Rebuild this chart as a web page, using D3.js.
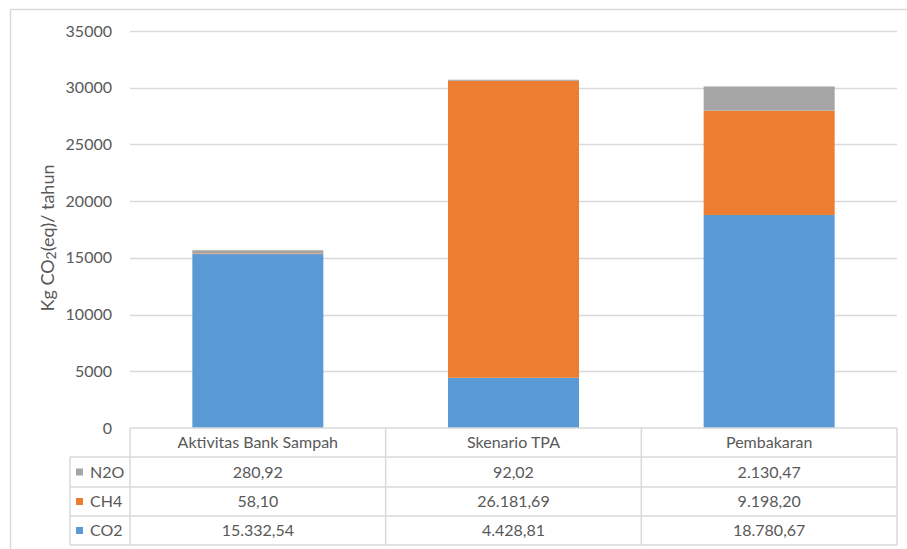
<!DOCTYPE html>
<html>
<head>
<meta charset="utf-8">
<script src="https://cdn.jsdelivr.net/npm/d3@7/dist/d3.min.js"></script>
<style>
  html, body { margin: 0; padding: 0; background: #fff; }
  svg { display: block; }
  text { font-family: Lato, "Open Sans", sans-serif; fill: #595959; }
</style>
</head>
<body>
<svg id="chart" width="907" height="549"></svg>
<script>
const categories = ["Aktivitas Bank Sampah", "Skenario TPA", "Pembakaran"];
const seriesNames = ["CO2", "CH4", "N2O"];
const co2Values = [15332.54, 4428.81, 18780.67];
const ch4Values = [58.10, 26181.69, 9198.20];
const n2oValues = [280.92, 92.02, 2130.47];
const co2Labels = ["15.332,54", "4.428,81", "18.780,67"];
const ch4Labels = ["58,10", "26.181,69", "9.198,20"];
const n2oLabels = ["280,92", "92,02", "2.130,47"];
const yTicks = [0, 5000, 10000, 15000, 20000, 25000, 30000, 35000];
const colors = { CO2: "#5b9bd5", CH4: "#ed7d31", N2O: "#a5a5a5" };

(function () {
const rows = categories.map((c, i) => ({ cat: c, CO2: co2Values[i], CH4: ch4Values[i], N2O: n2oValues[i] }));

const svg = d3.select("#chart");
const plotLeft = 130, plotRight = 897, plotTop = 31, zeroY = 428;

// outer border
svg.append("rect").attr("x", 10.5).attr("y", 9.5).attr("width", 905).attr("height", 545)
  .attr("fill", "none").attr("stroke", "#d9d9d9").attr("stroke-width", 1.5);

const x = d3.scaleBand().domain(categories).range([plotLeft, plotRight]).paddingInner(0.4876).paddingOuter(0.2438);
const y = d3.scaleLinear().domain([0, 35000]).range([zeroY, plotTop]);

// gridlines
svg.append("g").selectAll("line").data(yTicks.filter(t => t > 0)).join("line")
  .attr("x1", plotLeft).attr("x2", plotRight)
  .attr("y1", d => Math.round(y(d)) + 0.5).attr("y2", d => Math.round(y(d)) + 0.5)
  .attr("stroke", "#d9d9d9").attr("stroke-width", 1.3);

// y axis labels
const yAxis = d3.axisLeft(y).tickValues(yTicks).tickSize(0).tickPadding(0).tickFormat(d3.format("d"));
const ga = svg.append("g").attr("transform", `translate(112,0)`).call(yAxis);
ga.select(".domain").remove();
ga.selectAll("text").attr("font-size", 16).attr("font-family", "Lato, sans-serif").attr("fill", "#595959");

// stacked bars
const stack = d3.stack().keys(seriesNames)(rows);
svg.append("g").selectAll("g").data(stack).join("g")
  .attr("fill", d => colors[d.key])
  .selectAll("rect").data(d => d).join("rect")
  .attr("x", d => x(d.data.cat))
  .attr("width", x.bandwidth())
  .attr("y", d => y(d[1]))
  .attr("height", d => y(d[0]) - y(d[1]));

// y axis title
svg.append("text")
  .attr("transform", `translate(54,238) rotate(-90)`)
  .attr("text-anchor", "middle")
  .attr("font-size", 18)
  .html('Kg CO<tspan font-size="14" dy="2">2</tspan><tspan dy="-2">(eq)/ tahun</tspan>');

// data table
const tbl = svg.append("g");
const tableLeft = 70;
const rowEdges = [428, 457, 487, 516, 545];
const colEdges = [plotLeft].concat(categories.map(c => x(c) + x.bandwidth() / 2 + x.step() / 2));
const lineColor = "#d9d9d9";
const lw = 1.5;

tbl.append("line").attr("x1", plotLeft).attr("x2", plotRight).attr("y1", rowEdges[0]).attr("y2", rowEdges[0])
  .attr("stroke", lineColor).attr("stroke-width", lw);
rowEdges.slice(1).forEach(yy => {
  tbl.append("line").attr("x1", tableLeft).attr("x2", plotRight).attr("y1", yy).attr("y2", yy)
    .attr("stroke", lineColor).attr("stroke-width", lw);
});
colEdges.forEach(xx => {
  tbl.append("line").attr("x1", xx).attr("x2", xx).attr("y1", rowEdges[0]).attr("y2", rowEdges[4])
    .attr("stroke", lineColor).attr("stroke-width", lw);
});
tbl.append("line").attr("x1", tableLeft).attr("x2", tableLeft).attr("y1", rowEdges[1]).attr("y2", rowEdges[4])
  .attr("stroke", lineColor).attr("stroke-width", lw);

tbl.selectAll("text.hdr").data(categories).join("text").attr("class", "hdr")
  .attr("x", d => x(d) + x.bandwidth() / 2)
  .attr("y", (rowEdges[0] + rowEdges[1]) / 2)
  .attr("dy", "0.35em").attr("text-anchor", "middle").attr("font-size", 16)
  .text(d => d);

const tableRows = [
  { key: "N2O", labels: n2oLabels },
  { key: "CH4", labels: ch4Labels },
  { key: "CO2", labels: co2Labels }
];
tableRows.forEach((r, i) => {
  const cy = (rowEdges[i + 1] + rowEdges[i + 2]) / 2;
  tbl.append("rect").attr("x", 76).attr("y", cy - 3.5).attr("width", 7).attr("height", 7).attr("fill", colors[r.key]);
  tbl.append("text").attr("x", 90).attr("y", cy).attr("dy", "0.35em").attr("font-size", 16).text(r.key);
  r.labels.forEach((lab, j) => {
    tbl.append("text").attr("x", x(categories[j]) + x.bandwidth() / 2).attr("y", cy)
      .attr("dy", "0.35em").attr("text-anchor", "middle").attr("font-size", 16).text(lab);
  });
});
})();
</script>
</body>
</html>
